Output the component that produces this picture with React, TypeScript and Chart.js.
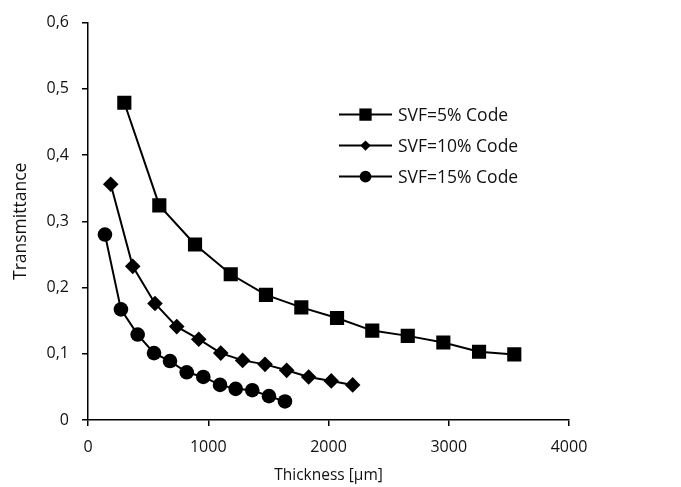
import React, { useEffect, useRef } from "react";
import { Chart, registerables } from "chart.js";

Chart.register(...registerables);

const seriesNames = ["SVF=5% Code", "SVF=10% Code", "SVF=15% Code"];
const pointStyles = ["rect", "rectRot", "circle"];
const pointRadii = [10, 7.8, 7.3];

const svf5X = [302, 593, 890, 1187, 1480, 1774, 2071, 2364, 2659, 2955, 3252, 3545];
const svf5Y = [0.479, 0.324, 0.265, 0.22, 0.189, 0.17, 0.154, 0.135, 0.127, 0.117, 0.103, 0.099];

const svf10X = [189, 372, 557, 738, 921, 1104, 1286, 1472, 1652, 1835, 2023, 2201];
const svf10Y = [0.356, 0.232, 0.176, 0.141, 0.122, 0.101, 0.09, 0.084, 0.075, 0.065, 0.059, 0.053];

const svf15X = [141, 274, 413, 549, 682, 821, 959, 1098, 1228, 1366, 1505, 1638];
const svf15Y = [0.28, 0.167, 0.129, 0.101, 0.089, 0.072, 0.065, 0.053, 0.047, 0.045, 0.036, 0.028];

const xTicks = [0, 1000, 2000, 3000, 4000];
const yTicks = [0, 0.1, 0.2, 0.3, 0.4, 0.5, 0.6];

const xTitle = "Thickness [µm]";
const yTitle = "Transmittance";

const FONT = "'Open Sans', sans-serif";
const TEXT = "#111";

const toPts = (xs: number[], ys: number[]) => xs.map((x, i) => ({ x, y: ys[i] }));

function drawMarker(ctx: CanvasRenderingContext2D, style: string, r: number, x: number, y: number) {
  ctx.beginPath();
  if (style === "rect") {
    const s = Math.SQRT1_2 * r;
    ctx.rect(x - s, y - s, 2 * s, 2 * s);
  } else if (style === "rectRot") {
    ctx.moveTo(x, y - r);
    ctx.lineTo(x + r, y);
    ctx.lineTo(x, y + r);
    ctx.lineTo(x - r, y);
    ctx.closePath();
  } else {
    ctx.arc(x, y, r, 0, Math.PI * 2);
  }
  ctx.fill();
}

const legendPlugin = {
  id: "customLegend",
  afterDraw(chart: any) {
    const { ctx, chartArea } = chart;
    const x0 = chartArea.left + 251;
    const x1 = chartArea.left + 304;
    const xm = (x0 + x1) / 2;
    const rows = [chartArea.top + 92, chartArea.top + 123, chartArea.top + 154];
    const legendRadii = [8.7, 5.2, 5.9];
    ctx.save();
    chart.data.datasets.forEach((ds: any, i: number) => {
      const y = rows[i];
      ctx.strokeStyle = "#000";
      ctx.lineWidth = 2;
      ctx.beginPath();
      ctx.moveTo(x0, y);
      ctx.lineTo(x1, y);
      ctx.stroke();
      ctx.fillStyle = "#000";
      drawMarker(ctx, ds.pointStyle, legendRadii[i], xm, y);
      ctx.fillStyle = TEXT;
      ctx.font = `17.5px ${FONT}`;
      ctx.textBaseline = "middle";
      ctx.textAlign = "left";
      ctx.fillText(ds.label, x1 + 6, y + 1);
    });
    ctx.restore();
  },
};

export default function App() {
  const ref = useRef<HTMLCanvasElement | null>(null);

  useEffect(() => {
    if (!ref.current) return;
    const data = [toPts(svf5X, svf5Y), toPts(svf10X, svf10Y), toPts(svf15X, svf15Y)];
    const chart = new Chart(ref.current, {
      type: "line",
      data: {
        datasets: data.map((d, i) => ({
          label: seriesNames[i],
          data: d,
          borderColor: "#000",
          backgroundColor: "#000",
          borderWidth: 2,
          pointStyle: pointStyles[i] as any,
          pointRadius: pointRadii[i],
          pointBackgroundColor: "#000",
          pointBorderColor: "#000",
          pointBorderWidth: 0,
          tension: 0,
        })),
      },
      options: {
        responsive: false,
        animation: false,
        layout: { padding: { top: 20, right: 112, left: 0, bottom: 0 } },
        plugins: { legend: { display: false }, tooltip: { enabled: false } },
        scales: {
          x: {
            type: "linear",
            min: 0,
            max: 4000,
            afterFit: (s: any) => { s.height = 67; },
            afterBuildTicks: (s: any) => { s.ticks = xTicks.map((v) => ({ value: v })); },
            ticks: { color: TEXT, font: { family: FONT, size: 16 }, padding: 12, callback: (v: any) => String(v) },
            grid: { drawOnChartArea: false, drawTicks: true, tickLength: 6, color: "#000", lineWidth: 1.5 },
            border: { display: true, color: "#000", width: 1.5 },
            title: { display: true, text: xTitle, color: TEXT, font: { family: FONT, size: 15.5 }, padding: { top: 0, bottom: 2 } },
          },
          y: {
            type: "linear",
            min: 0,
            max: 0.6,
            afterFit: (s: any) => { s.width = 88; },
            afterBuildTicks: (s: any) => { s.ticks = yTicks.map((v) => ({ value: v })); },
            ticks: {
              color: TEXT,
              font: { family: FONT, size: 16 },
              padding: 13,
              callback: (v: any) => (Number(v) === 0 ? "0" : Number(v).toFixed(1).replace(".", ",")),
            },
            grid: { drawOnChartArea: false, drawTicks: true, tickLength: 6, color: "#000", lineWidth: 1.5 },
            border: { display: true, color: "#000", width: 1.5 },
            title: { display: true, text: yTitle, color: TEXT, font: { family: FONT, size: 17.5 }, padding: { top: 11, bottom: 0 } },
          },
        },
      },
      plugins: [legendPlugin],
    });
    return () => chart.destroy();
  }, []);

  return (
    <div style={{ position: "fixed", left: 0, top: 0, width: 681, height: 487, background: "#fff" }}>
      <canvas ref={ref} width={681} height={487} />
    </div>
  );
}
